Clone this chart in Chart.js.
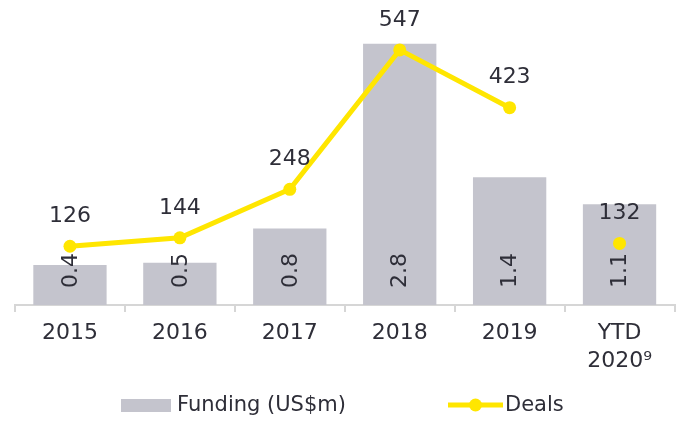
<!DOCTYPE html>
<html>
<head>
<meta charset="utf-8">
<script src="https://cdn.jsdelivr.net/npm/chart.js@4/dist/chart.umd.min.js"></script>
<style>
html,body{margin:0;padding:0;background:#fff;}
canvas{display:block;}
</style>
</head>
<body>
<canvas id="c" width="681" height="422"></canvas>
<script>
const categories = [['2015'], ['2016'], ['2017'], ['2018'], ['2019'], ['YTD', '2020\u2079']];
const fundingValues = [0.43, 0.452, 0.82, 2.8, 1.37, 1.08];
const dealsValues = [126, 144, 248, 547, 423, 132];
const fundingLabel = 'Funding (US$m)';
const dealsLabel = 'Deals';

const FONT = '"DejaVu Sans", sans-serif';
const TEXT = '#2e2e38';
const BAR = '#c4c4cd';
const YELLOW = '#ffe600';

const labelPlugin = {
  id: 'labels',
  afterDatasetDraw(chart, args) {
    const ctx = chart.ctx;
    const meta = args.meta;
    const ds = chart.data.datasets[args.index];
    ctx.save();
    ctx.fillStyle = TEXT;
    ctx.font = '22px ' + FONT;
    if (meta.type === 'bar') {
      const base = chart.scales.y.getPixelForValue(0);
      meta.data.forEach((el, i) => {
        ctx.save();
        ctx.translate(el.x, base - 17);
        ctx.rotate(-Math.PI / 2);
        ctx.textAlign = 'left';
        ctx.textBaseline = 'middle';
        ctx.fillText(ds.data[i].toFixed(1), 0, 1);
        ctx.restore();
      });
    } else {
      ctx.textAlign = 'center';
      ctx.textBaseline = 'middle';
      meta.data.forEach((el, i) => {
        ctx.fillText(String(ds.data[i]), el.x, el.y - 30);
      });
    }
    ctx.restore();
  },
  afterDraw(chart) {
    const ctx = chart.ctx;
    ctx.save();
    ctx.fillStyle = BAR;
    ctx.fillRect(121, 399, 50, 13);
    ctx.fillStyle = TEXT;
    ctx.font = '21px ' + FONT;
    ctx.textAlign = 'left';
    ctx.textBaseline = 'middle';
    ctx.fillText(fundingLabel, 177, 406);
    ctx.strokeStyle = YELLOW;
    ctx.lineWidth = 5;
    ctx.beginPath();
    ctx.moveTo(448, 405);
    ctx.lineTo(503, 405);
    ctx.stroke();
    ctx.fillStyle = YELLOW;
    ctx.beginPath();
    ctx.arc(475.5, 405, 6.5, 0, Math.PI * 2);
    ctx.fill();
    ctx.fillStyle = TEXT;
    ctx.fillText(dealsLabel, 505, 406);
    ctx.restore();
  }
};

new Chart(document.getElementById('c'), {
  data: {
    labels: categories,
    datasets: [
      {
        type: 'bar',
        label: fundingLabel,
        data: fundingValues,
        backgroundColor: BAR,
        borderWidth: 0,
        barPercentage: 0.667,
        categoryPercentage: 1,
        yAxisID: 'y',
        order: 2
      },
      {
        type: 'line',
        label: dealsLabel,
        data: dealsValues,
        borderColor: YELLOW,
        backgroundColor: YELLOW,
        borderWidth: 5,
        pointRadius: 6.5,
        pointHoverRadius: 6.5,
        pointBackgroundColor: YELLOW,
        pointBorderWidth: 0,
        tension: 0,
        yAxisID: 'y1',
        order: 1,
        segment: {
          borderColor: c => c.p1DataIndex === 5 ? 'rgba(0,0,0,0)' : undefined
        }
      }
    ]
  },
  options: {
    responsive: false,
    animation: false,
    layout: { padding: { top: 6, left: 15, right: 6, bottom: 0 } },
    plugins: { legend: { display: false }, tooltip: { enabled: false } },
    scales: {
      x: {
        grid: { display: true, drawOnChartArea: false, offset: true, tickLength: 7, color: '#d6d6d6', lineWidth: 2 },
        border: { display: true, color: '#d6d6d6', width: 2 },
        ticks: { color: TEXT, font: { family: FONT, size: 22, lineHeight: 1.27 }, padding: 7, maxRotation: 0, autoSkip: false },
        afterFit(s) { s.height = 117; }
      },
      y: { display: false, min: 0, max: 3.2 },
      y1: { display: false, min: 0, max: 640, position: 'right' }
    }
  },
  plugins: [labelPlugin]
});
</script>
</body>
</html>
